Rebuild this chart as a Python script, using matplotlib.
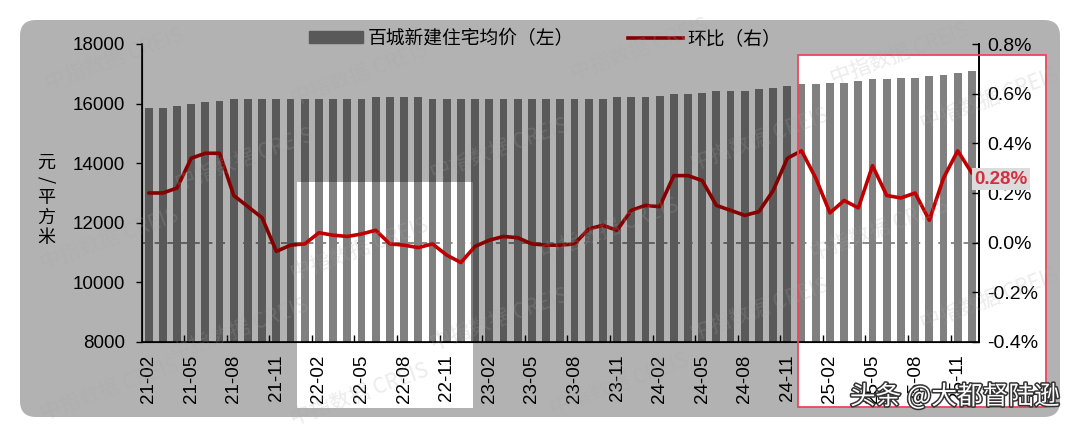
import matplotlib
matplotlib.use('Agg')
import matplotlib.pyplot as plt
import matplotlib.patches as mpatches
import matplotlib.patheffects as pe
from matplotlib.path import Path
from matplotlib.lines import Line2D
import numpy as np

plt.rcParams['font.family'] = ['Liberation Sans', 'Noto Sans CJK SC', 'DejaVu Sans']

# monthly data, 21-02 .. 25-12
months = [f'{y:02d}-{m:02d}' for y in range(21, 26) for m in range(1, 13)][1:]

# 百城新建住宅均价 (yuan / m2)
price = [15860, 15850, 15920, 15980, 16040, 16090, 16140,
         16150, 16150, 16150, 16150, 16150, 16150, 16150, 16150, 16150,
         16210, 16210, 16210, 16210,
         16145, 16145, 16145, 16145,
         16160, 16160, 16160, 16160, 16160, 16160, 16160, 16160, 16160,
         16210, 16210, 16210,
         16265, 16310, 16310, 16365, 16420, 16420, 16420, 16480, 16535, 16590,
         16650, 16650, 16700, 16700, 16760, 16815, 16815, 16870, 16870, 16925,
         16970, 17030, 17085]

# 环比 (%)
mom = [0.20, 0.20, 0.22, 0.34, 0.36, 0.36, 0.19, 0.145, 0.10, -0.035,
       -0.01, -0.005, 0.04, 0.03, 0.025, 0.035, 0.05, -0.005, -0.01, -0.02,
       -0.005, -0.05, -0.08, -0.015, 0.01, 0.025, 0.02, -0.005, -0.01, -0.01,
       -0.005, 0.055, 0.07, 0.05, 0.13, 0.15, 0.145, 0.27, 0.27, 0.25,
       0.15, 0.13, 0.11, 0.125, 0.21, 0.34, 0.37, 0.26, 0.12, 0.17,
       0.14, 0.31, 0.19, 0.18, 0.20, 0.09, 0.26, 0.37, 0.28]

tick_labels = ['21-02', '21-05', '21-08', '21-11', '22-02', '22-05', '22-08', '22-11',
               '23-02', '23-05', '23-08', '23-11', '24-02', '24-05', '24-08', '24-11',
               '25-02', '25-05', '25-08', '25-11']

W, H = 1080, 438
fig = plt.figure(figsize=(W / 100, H / 100), dpi=100)
fig.patch.set_facecolor('white')

# plot area in pixels
L, R, T, B = 141.5, 979, 44, 342
ax = fig.add_axes([L / W, 1 - B / H, (R - L) / W, (B - T) / H])
ax.set_facecolor('white')

x = np.arange(len(months))
ax.bar(x, price, width=0.55, color='#808080', zorder=2)
ax.set_xlim(-0.5, len(months) - 0.5)
ax.set_ylim(8000, 18000)
ax.set_yticks(range(8000, 18001, 2000))

label_pos = [months.index(t) for t in tick_labels]
ax.set_xticks(label_pos)
ax.set_xticklabels(tick_labels, rotation=90, fontsize=13.5)
ax.set_xticks([p - 0.5 for p in label_pos[1:]], minor=True)
ax.tick_params(axis='x', which='major', length=0, pad=9)
ax.tick_params(axis='x', which='minor', length=5, direction='in', width=1)
ax.tick_params(axis='y', labelsize=13.5, length=4, direction='out', pad=8, width=1)
ax.spines['top'].set_visible(False)
for s in ['left', 'bottom', 'right']:
    ax.spines[s].set_color('black')
    ax.spines[s].set_linewidth(1.2)

ax2 = ax.twinx()
ax2.set_ylim(-0.4, 0.8)
ax2.set_yticks(np.arange(-0.4, 0.81, 0.2))
ax2.set_yticklabels([f'{v:.1f}%' for v in np.arange(-0.4, 0.81, 0.2)])
ax2.tick_params(axis='y', labelsize=14, length=5, direction='in', pad=6, width=1)
ax2.spines['top'].set_visible(False)
ax2.spines['right'].set_linewidth(1.2)
ax2.axhline(0, color='#808080', lw=1.3, ls=(0, (4, 3)), zorder=1)
ax2.plot(x, mom, color='#c00000', lw=2.6, solid_joinstyle='round',
         solid_capstyle='round', zorder=3)

handles = [mpatches.Patch(color='#808080'),
           Line2D([], [], color='#c00000', lw=2.6)]
ax2.legend(handles, ['百城新建住宅均价（左）', '环比（右）'], loc='center',
           bbox_to_anchor=(545 / W, 1 - 39 / H), bbox_transform=fig.transFigure,
           ncol=2, frameon=False, fontsize=13.5, handlelength=2.9, handleheight=0.6,
           columnspacing=2.9, handletextpad=0.25)

# vertical unit label
for ch, yy, rot in [('元', 163, 0), ('/', 180, -90), ('平', 198, 0), ('方', 218, 0), ('米', 238, 0)]:
    fig.text(46 / W, 1 - yy / H, ch, fontsize=13, ha='center', va='center', rotation=rot,
             family=['Noto Sans CJK SC', 'DejaVu Sans'])

# overlay layer in pixel coordinates
ov = fig.add_axes([0, 0, 1, 1])
ov.set_xlim(0, W)
ov.set_ylim(H, 0)
ov.axis('off')
ov.patch.set_alpha(0)

# watermarks
marks = [(115, 60), (360, 75), (640, 50), (900, 55), (245, 160), (500, 150), (760, 140),
         (990, 100), (110, 240), (360, 250), (610, 230), (880, 230), (240, 330),
         (500, 320), (760, 310), (990, 300), (110, 390), (360, 395), (620, 385)]
for mx, my in marks:
    ov.text(mx, my, '中指数据 CREIS', fontsize=15, color='#a8a8a8', alpha=0.22,
            rotation=20, ha='center', va='center',
            family=['Noto Sans CJK SC', 'DejaVu Sans'])

card = mpatches.FancyBboxPatch((20, 20), 1040, 397, boxstyle='round,pad=0,rounding_size=16')
outer = card.get_path()
vx, vy = outer.vertices[:, 0], outer.vertices[:, 1]
area = np.sum(vx * np.roll(vy, -1) - np.roll(vx, -1) * vy)


def rect_path(x0, y0, x1, y1, reverse):
    pts = [(x0, y0), (x1, y0), (x1, y1), (x0, y1)]
    s = (x1 - x0) * (y1 - y0)
    if (s > 0) == reverse:
        pts = pts[::-1]
    return Path(pts + [pts[0]], [Path.MOVETO, Path.LINETO, Path.LINETO, Path.LINETO, Path.CLOSEPOLY])


holes = [(297, 182, 473, 408), (798, 55, 1046, 407)]
parts = [outer] + [rect_path(*h, area > 0) for h in holes]
overlay = mpatches.PathPatch(Path.make_compound_path(*parts), facecolor='black',
                             edgecolor='none', alpha=0.3)
ov.add_patch(overlay)

# red highlight frame
ov.add_patch(mpatches.Rectangle((798, 55), 248, 352, fill=False, edgecolor='#f0455a', lw=1.3))

# last value label
ov.text(1001, 179, '0.28%', fontsize=13.5, color='#d0303f', fontweight='bold',
        ha='center', va='center',
        bbox=dict(boxstyle='square,pad=0.15', facecolor='#dcdcdc', edgecolor='none'))

# platform watermark
ov.text(955, 397, '头条 @大都督陆逊', fontsize=18.5, color='white', ha='center', va='center',
        family=['Noto Sans CJK SC', 'DejaVu Sans'],
        path_effects=[pe.withStroke(linewidth=2.2, foreground='#333333')])

fig.savefig('out.png', dpi=100)
